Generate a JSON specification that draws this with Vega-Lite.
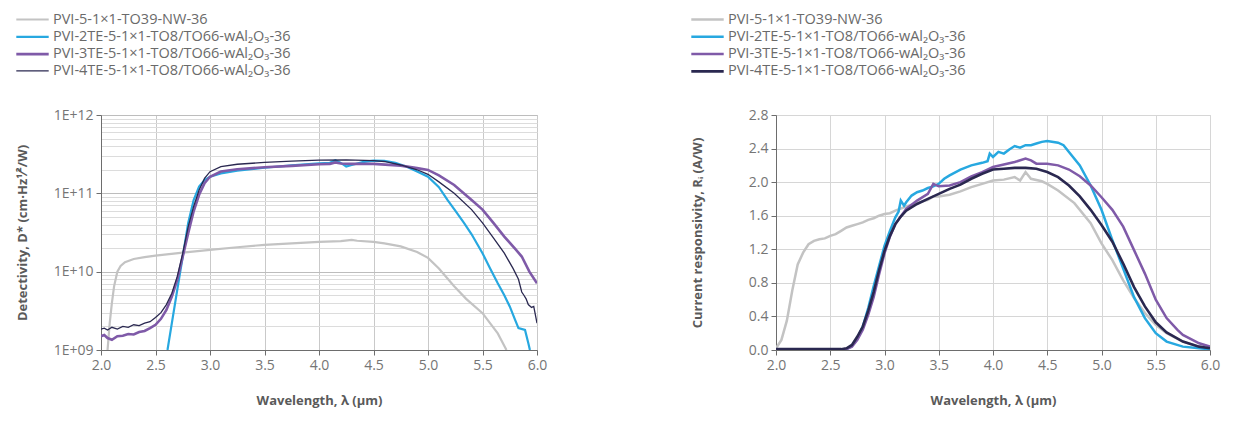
{
  "$schema": "https://vega.github.io/schema/vega-lite/v6.json",
  "background": "white",
  "padding": {"left": 15, "top": 8, "right": 20, "bottom": 5},
  "config": {
    "font": "Open Sans",
    "view": {"stroke": "#cfcfcf"},
    "concat": {"spacing": 142},
    "axis": {
      "labelFont": "Open Sans", "labelFontSize": 14, "labelColor": "#757575", "labelFlush": false,
      "titleFont": "Open Sans", "titleFontSize": 13, "titleFontWeight": "bold", "titleColor": "#5a5a5a",
      "domainColor": "#6d6d6d", "tickColor": "#6d6d6d", "tickSize": 5, "gridColor": "#d6d6d6", "labelPadding": 3
    },
    "legend": {
      "labelFont": "Open Sans", "labelFontSize": 14.5, "labelColor": "#6a6a6a", "labelLimit": 400,
      "symbolType": "M-1.8,0H1.8", "symbolStrokeWidth": 2.5, "symbolSize": 324, "rowPadding": 0.3, "labelOffset": 10
    }
  },
  "datasets": {
    "det": [
      {"series": "PVI-5-1×1-TO39-NW-36", "wavelength": 2.06, "value": 1.0e9},
      {"series": "PVI-5-1×1-TO39-NW-36", "wavelength": 2.08, "value": 2.2e9},
      {"series": "PVI-5-1×1-TO39-NW-36", "wavelength": 2.10, "value": 4.0e9},
      {"series": "PVI-5-1×1-TO39-NW-36", "wavelength": 2.12, "value": 6.5e9},
      {"series": "PVI-5-1×1-TO39-NW-36", "wavelength": 2.15, "value": 1.0e10},
      {"series": "PVI-5-1×1-TO39-NW-36", "wavelength": 2.18, "value": 1.18e10},
      {"series": "PVI-5-1×1-TO39-NW-36", "wavelength": 2.22, "value": 1.32e10},
      {"series": "PVI-5-1×1-TO39-NW-36", "wavelength": 2.3, "value": 1.45e10},
      {"series": "PVI-5-1×1-TO39-NW-36", "wavelength": 2.4, "value": 1.53e10},
      {"series": "PVI-5-1×1-TO39-NW-36", "wavelength": 2.5, "value": 1.6e10},
      {"series": "PVI-5-1×1-TO39-NW-36", "wavelength": 2.75, "value": 1.75e10},
      {"series": "PVI-5-1×1-TO39-NW-36", "wavelength": 3.0, "value": 1.9e10},
      {"series": "PVI-5-1×1-TO39-NW-36", "wavelength": 3.25, "value": 2.05e10},
      {"series": "PVI-5-1×1-TO39-NW-36", "wavelength": 3.5, "value": 2.2e10},
      {"series": "PVI-5-1×1-TO39-NW-36", "wavelength": 3.75, "value": 2.3e10},
      {"series": "PVI-5-1×1-TO39-NW-36", "wavelength": 4.0, "value": 2.4e10},
      {"series": "PVI-5-1×1-TO39-NW-36", "wavelength": 4.2, "value": 2.45e10},
      {"series": "PVI-5-1×1-TO39-NW-36", "wavelength": 4.3, "value": 2.55e10},
      {"series": "PVI-5-1×1-TO39-NW-36", "wavelength": 4.35, "value": 2.48e10},
      {"series": "PVI-5-1×1-TO39-NW-36", "wavelength": 4.5, "value": 2.4e10},
      {"series": "PVI-5-1×1-TO39-NW-36", "wavelength": 4.6, "value": 2.3e10},
      {"series": "PVI-5-1×1-TO39-NW-36", "wavelength": 4.75, "value": 2.1e10},
      {"series": "PVI-5-1×1-TO39-NW-36", "wavelength": 4.9, "value": 1.78e10},
      {"series": "PVI-5-1×1-TO39-NW-36", "wavelength": 5.0, "value": 1.5e10},
      {"series": "PVI-5-1×1-TO39-NW-36", "wavelength": 5.1, "value": 1.1e10},
      {"series": "PVI-5-1×1-TO39-NW-36", "wavelength": 5.24, "value": 6.5e9},
      {"series": "PVI-5-1×1-TO39-NW-36", "wavelength": 5.35, "value": 4.5e9},
      {"series": "PVI-5-1×1-TO39-NW-36", "wavelength": 5.5, "value": 2.95e9},
      {"series": "PVI-5-1×1-TO39-NW-36", "wavelength": 5.64, "value": 1.63e9},
      {"series": "PVI-5-1×1-TO39-NW-36", "wavelength": 5.72, "value": 1.0e9},

      {"series": "PVI-2TE-5-1×1-TO8/TO66-wAl₂O₃-36", "wavelength": 2.61, "value": 1.0e9},
      {"series": "PVI-2TE-5-1×1-TO8/TO66-wAl₂O₃-36", "wavelength": 2.65, "value": 2.2e9},
      {"series": "PVI-2TE-5-1×1-TO8/TO66-wAl₂O₃-36", "wavelength": 2.7, "value": 5.9e9},
      {"series": "PVI-2TE-5-1×1-TO8/TO66-wAl₂O₃-36", "wavelength": 2.75, "value": 1.56e10},
      {"series": "PVI-2TE-5-1×1-TO8/TO66-wAl₂O₃-36", "wavelength": 2.8, "value": 4.2e10},
      {"series": "PVI-2TE-5-1×1-TO8/TO66-wAl₂O₃-36", "wavelength": 2.85, "value": 8.2e10},
      {"series": "PVI-2TE-5-1×1-TO8/TO66-wAl₂O₃-36", "wavelength": 2.9, "value": 1.22e11},
      {"series": "PVI-2TE-5-1×1-TO8/TO66-wAl₂O₃-36", "wavelength": 2.95, "value": 1.48e11},
      {"series": "PVI-2TE-5-1×1-TO8/TO66-wAl₂O₃-36", "wavelength": 3.0, "value": 1.63e11},
      {"series": "PVI-2TE-5-1×1-TO8/TO66-wAl₂O₃-36", "wavelength": 3.1, "value": 1.8e11},
      {"series": "PVI-2TE-5-1×1-TO8/TO66-wAl₂O₃-36", "wavelength": 3.25, "value": 1.95e11},
      {"series": "PVI-2TE-5-1×1-TO8/TO66-wAl₂O₃-36", "wavelength": 3.5, "value": 2.12e11},
      {"series": "PVI-2TE-5-1×1-TO8/TO66-wAl₂O₃-36", "wavelength": 3.75, "value": 2.28e11},
      {"series": "PVI-2TE-5-1×1-TO8/TO66-wAl₂O₃-36", "wavelength": 4.0, "value": 2.42e11},
      {"series": "PVI-2TE-5-1×1-TO8/TO66-wAl₂O₃-36", "wavelength": 4.1, "value": 2.45e11},
      {"series": "PVI-2TE-5-1×1-TO8/TO66-wAl₂O₃-36", "wavelength": 4.15, "value": 2.65e11},
      {"series": "PVI-2TE-5-1×1-TO8/TO66-wAl₂O₃-36", "wavelength": 4.2, "value": 2.45e11},
      {"series": "PVI-2TE-5-1×1-TO8/TO66-wAl₂O₃-36", "wavelength": 4.25, "value": 2.2e11},
      {"series": "PVI-2TE-5-1×1-TO8/TO66-wAl₂O₃-36", "wavelength": 4.3, "value": 2.3e11},
      {"series": "PVI-2TE-5-1×1-TO8/TO66-wAl₂O₃-36", "wavelength": 4.4, "value": 2.5e11},
      {"series": "PVI-2TE-5-1×1-TO8/TO66-wAl₂O₃-36", "wavelength": 4.5, "value": 2.62e11},
      {"series": "PVI-2TE-5-1×1-TO8/TO66-wAl₂O₃-36", "wavelength": 4.6, "value": 2.6e11},
      {"series": "PVI-2TE-5-1×1-TO8/TO66-wAl₂O₃-36", "wavelength": 4.7, "value": 2.45e11},
      {"series": "PVI-2TE-5-1×1-TO8/TO66-wAl₂O₃-36", "wavelength": 4.8, "value": 2.2e11},
      {"series": "PVI-2TE-5-1×1-TO8/TO66-wAl₂O₃-36", "wavelength": 4.9, "value": 1.9e11},
      {"series": "PVI-2TE-5-1×1-TO8/TO66-wAl₂O₃-36", "wavelength": 5.0, "value": 1.63e11},
      {"series": "PVI-2TE-5-1×1-TO8/TO66-wAl₂O₃-36", "wavelength": 5.1, "value": 1.2e11},
      {"series": "PVI-2TE-5-1×1-TO8/TO66-wAl₂O₃-36", "wavelength": 5.18, "value": 8.2e10},
      {"series": "PVI-2TE-5-1×1-TO8/TO66-wAl₂O₃-36", "wavelength": 5.25, "value": 6.0e10},
      {"series": "PVI-2TE-5-1×1-TO8/TO66-wAl₂O₃-36", "wavelength": 5.33, "value": 4.2e10},
      {"series": "PVI-2TE-5-1×1-TO8/TO66-wAl₂O₃-36", "wavelength": 5.4, "value": 3.0e10},
      {"series": "PVI-2TE-5-1×1-TO8/TO66-wAl₂O₃-36", "wavelength": 5.5, "value": 1.72e10},
      {"series": "PVI-2TE-5-1×1-TO8/TO66-wAl₂O₃-36", "wavelength": 5.57, "value": 1.1e10},
      {"series": "PVI-2TE-5-1×1-TO8/TO66-wAl₂O₃-36", "wavelength": 5.64, "value": 7.1e9},
      {"series": "PVI-2TE-5-1×1-TO8/TO66-wAl₂O₃-36", "wavelength": 5.7, "value": 5.0e9},
      {"series": "PVI-2TE-5-1×1-TO8/TO66-wAl₂O₃-36", "wavelength": 5.75, "value": 3.6e9},
      {"series": "PVI-2TE-5-1×1-TO8/TO66-wAl₂O₃-36", "wavelength": 5.8, "value": 2.4e9},
      {"series": "PVI-2TE-5-1×1-TO8/TO66-wAl₂O₃-36", "wavelength": 5.83, "value": 1.9e9},
      {"series": "PVI-2TE-5-1×1-TO8/TO66-wAl₂O₃-36", "wavelength": 5.89, "value": 1.8e9},
      {"series": "PVI-2TE-5-1×1-TO8/TO66-wAl₂O₃-36", "wavelength": 5.92, "value": 1.23e9},
      {"series": "PVI-2TE-5-1×1-TO8/TO66-wAl₂O₃-36", "wavelength": 5.935, "value": 1.0e9},

      {"series": "PVI-3TE-5-1×1-TO8/TO66-wAl₂O₃-36", "wavelength": 2.0, "value": 1.5e9},
      {"series": "PVI-3TE-5-1×1-TO8/TO66-wAl₂O₃-36", "wavelength": 2.03, "value": 1.55e9},
      {"series": "PVI-3TE-5-1×1-TO8/TO66-wAl₂O₃-36", "wavelength": 2.06, "value": 1.42e9},
      {"series": "PVI-3TE-5-1×1-TO8/TO66-wAl₂O₃-36", "wavelength": 2.1, "value": 1.35e9},
      {"series": "PVI-3TE-5-1×1-TO8/TO66-wAl₂O₃-36", "wavelength": 2.15, "value": 1.5e9},
      {"series": "PVI-3TE-5-1×1-TO8/TO66-wAl₂O₃-36", "wavelength": 2.2, "value": 1.52e9},
      {"series": "PVI-3TE-5-1×1-TO8/TO66-wAl₂O₃-36", "wavelength": 2.25, "value": 1.6e9},
      {"series": "PVI-3TE-5-1×1-TO8/TO66-wAl₂O₃-36", "wavelength": 2.3, "value": 1.58e9},
      {"series": "PVI-3TE-5-1×1-TO8/TO66-wAl₂O₃-36", "wavelength": 2.35, "value": 1.7e9},
      {"series": "PVI-3TE-5-1×1-TO8/TO66-wAl₂O₃-36", "wavelength": 2.4, "value": 1.75e9},
      {"series": "PVI-3TE-5-1×1-TO8/TO66-wAl₂O₃-36", "wavelength": 2.45, "value": 1.9e9},
      {"series": "PVI-3TE-5-1×1-TO8/TO66-wAl₂O₃-36", "wavelength": 2.5, "value": 2.1e9},
      {"series": "PVI-3TE-5-1×1-TO8/TO66-wAl₂O₃-36", "wavelength": 2.55, "value": 2.5e9},
      {"series": "PVI-3TE-5-1×1-TO8/TO66-wAl₂O₃-36", "wavelength": 2.6, "value": 3.25e9},
      {"series": "PVI-3TE-5-1×1-TO8/TO66-wAl₂O₃-36", "wavelength": 2.65, "value": 4.8e9},
      {"series": "PVI-3TE-5-1×1-TO8/TO66-wAl₂O₃-36", "wavelength": 2.7, "value": 7.9e9},
      {"series": "PVI-3TE-5-1×1-TO8/TO66-wAl₂O₃-36", "wavelength": 2.75, "value": 1.56e10},
      {"series": "PVI-3TE-5-1×1-TO8/TO66-wAl₂O₃-36", "wavelength": 2.8, "value": 3.1e10},
      {"series": "PVI-3TE-5-1×1-TO8/TO66-wAl₂O₃-36", "wavelength": 2.85, "value": 5.9e10},
      {"series": "PVI-3TE-5-1×1-TO8/TO66-wAl₂O₃-36", "wavelength": 2.9, "value": 9.6e10},
      {"series": "PVI-3TE-5-1×1-TO8/TO66-wAl₂O₃-36", "wavelength": 2.95, "value": 1.35e11},
      {"series": "PVI-3TE-5-1×1-TO8/TO66-wAl₂O₃-36", "wavelength": 3.0, "value": 1.63e11},
      {"series": "PVI-3TE-5-1×1-TO8/TO66-wAl₂O₃-36", "wavelength": 3.1, "value": 1.9e11},
      {"series": "PVI-3TE-5-1×1-TO8/TO66-wAl₂O₃-36", "wavelength": 3.25, "value": 2.03e11},
      {"series": "PVI-3TE-5-1×1-TO8/TO66-wAl₂O₃-36", "wavelength": 3.5, "value": 2.15e11},
      {"series": "PVI-3TE-5-1×1-TO8/TO66-wAl₂O₃-36", "wavelength": 3.75, "value": 2.24e11},
      {"series": "PVI-3TE-5-1×1-TO8/TO66-wAl₂O₃-36", "wavelength": 4.0, "value": 2.35e11},
      {"series": "PVI-3TE-5-1×1-TO8/TO66-wAl₂O₃-36", "wavelength": 4.1, "value": 2.38e11},
      {"series": "PVI-3TE-5-1×1-TO8/TO66-wAl₂O₃-36", "wavelength": 4.15, "value": 2.48e11},
      {"series": "PVI-3TE-5-1×1-TO8/TO66-wAl₂O₃-36", "wavelength": 4.2, "value": 2.4e11},
      {"series": "PVI-3TE-5-1×1-TO8/TO66-wAl₂O₃-36", "wavelength": 4.3, "value": 2.38e11},
      {"series": "PVI-3TE-5-1×1-TO8/TO66-wAl₂O₃-36", "wavelength": 4.5, "value": 2.38e11},
      {"series": "PVI-3TE-5-1×1-TO8/TO66-wAl₂O₃-36", "wavelength": 4.75, "value": 2.26e11},
      {"series": "PVI-3TE-5-1×1-TO8/TO66-wAl₂O₃-36", "wavelength": 4.9, "value": 2.1e11},
      {"series": "PVI-3TE-5-1×1-TO8/TO66-wAl₂O₃-36", "wavelength": 5.0, "value": 1.99e11},
      {"series": "PVI-3TE-5-1×1-TO8/TO66-wAl₂O₃-36", "wavelength": 5.1, "value": 1.7e11},
      {"series": "PVI-3TE-5-1×1-TO8/TO66-wAl₂O₃-36", "wavelength": 5.24, "value": 1.28e11},
      {"series": "PVI-3TE-5-1×1-TO8/TO66-wAl₂O₃-36", "wavelength": 5.4, "value": 8.2e10},
      {"series": "PVI-3TE-5-1×1-TO8/TO66-wAl₂O₃-36", "wavelength": 5.5, "value": 6.2e10},
      {"series": "PVI-3TE-5-1×1-TO8/TO66-wAl₂O₃-36", "wavelength": 5.6, "value": 4.2e10},
      {"series": "PVI-3TE-5-1×1-TO8/TO66-wAl₂O₃-36", "wavelength": 5.7, "value": 2.8e10},
      {"series": "PVI-3TE-5-1×1-TO8/TO66-wAl₂O₃-36", "wavelength": 5.8, "value": 1.95e10},
      {"series": "PVI-3TE-5-1×1-TO8/TO66-wAl₂O₃-36", "wavelength": 5.86, "value": 1.56e10},
      {"series": "PVI-3TE-5-1×1-TO8/TO66-wAl₂O₃-36", "wavelength": 5.93, "value": 1.0e10},
      {"series": "PVI-3TE-5-1×1-TO8/TO66-wAl₂O₃-36", "wavelength": 6.0, "value": 7.1e9},

      {"series": "PVI-4TE-5-1×1-TO8/TO66-wAl₂O₃-36", "wavelength": 2.0, "value": 1.85e9},
      {"series": "PVI-4TE-5-1×1-TO8/TO66-wAl₂O₃-36", "wavelength": 2.03, "value": 1.9e9},
      {"series": "PVI-4TE-5-1×1-TO8/TO66-wAl₂O₃-36", "wavelength": 2.06, "value": 1.8e9},
      {"series": "PVI-4TE-5-1×1-TO8/TO66-wAl₂O₃-36", "wavelength": 2.1, "value": 1.95e9},
      {"series": "PVI-4TE-5-1×1-TO8/TO66-wAl₂O₃-36", "wavelength": 2.15, "value": 1.85e9},
      {"series": "PVI-4TE-5-1×1-TO8/TO66-wAl₂O₃-36", "wavelength": 2.2, "value": 2.0e9},
      {"series": "PVI-4TE-5-1×1-TO8/TO66-wAl₂O₃-36", "wavelength": 2.25, "value": 1.95e9},
      {"series": "PVI-4TE-5-1×1-TO8/TO66-wAl₂O₃-36", "wavelength": 2.3, "value": 2.1e9},
      {"series": "PVI-4TE-5-1×1-TO8/TO66-wAl₂O₃-36", "wavelength": 2.35, "value": 2.05e9},
      {"series": "PVI-4TE-5-1×1-TO8/TO66-wAl₂O₃-36", "wavelength": 2.4, "value": 2.2e9},
      {"series": "PVI-4TE-5-1×1-TO8/TO66-wAl₂O₃-36", "wavelength": 2.45, "value": 2.3e9},
      {"series": "PVI-4TE-5-1×1-TO8/TO66-wAl₂O₃-36", "wavelength": 2.5, "value": 2.6e9},
      {"series": "PVI-4TE-5-1×1-TO8/TO66-wAl₂O₃-36", "wavelength": 2.55, "value": 3.0e9},
      {"series": "PVI-4TE-5-1×1-TO8/TO66-wAl₂O₃-36", "wavelength": 2.6, "value": 3.8e9},
      {"series": "PVI-4TE-5-1×1-TO8/TO66-wAl₂O₃-36", "wavelength": 2.65, "value": 5.3e9},
      {"series": "PVI-4TE-5-1×1-TO8/TO66-wAl₂O₃-36", "wavelength": 2.7, "value": 8.7e9},
      {"series": "PVI-4TE-5-1×1-TO8/TO66-wAl₂O₃-36", "wavelength": 2.75, "value": 1.72e10},
      {"series": "PVI-4TE-5-1×1-TO8/TO66-wAl₂O₃-36", "wavelength": 2.8, "value": 3.76e10},
      {"series": "PVI-4TE-5-1×1-TO8/TO66-wAl₂O₃-36", "wavelength": 2.85, "value": 6.8e10},
      {"series": "PVI-4TE-5-1×1-TO8/TO66-wAl₂O₃-36", "wavelength": 2.9, "value": 1.1e11},
      {"series": "PVI-4TE-5-1×1-TO8/TO66-wAl₂O₃-36", "wavelength": 2.95, "value": 1.55e11},
      {"series": "PVI-4TE-5-1×1-TO8/TO66-wAl₂O₃-36", "wavelength": 3.0, "value": 1.89e11},
      {"series": "PVI-4TE-5-1×1-TO8/TO66-wAl₂O₃-36", "wavelength": 3.1, "value": 2.19e11},
      {"series": "PVI-4TE-5-1×1-TO8/TO66-wAl₂O₃-36", "wavelength": 3.25, "value": 2.35e11},
      {"series": "PVI-4TE-5-1×1-TO8/TO66-wAl₂O₃-36", "wavelength": 3.5, "value": 2.48e11},
      {"series": "PVI-4TE-5-1×1-TO8/TO66-wAl₂O₃-36", "wavelength": 3.75, "value": 2.58e11},
      {"series": "PVI-4TE-5-1×1-TO8/TO66-wAl₂O₃-36", "wavelength": 4.0, "value": 2.65e11},
      {"series": "PVI-4TE-5-1×1-TO8/TO66-wAl₂O₃-36", "wavelength": 4.25, "value": 2.68e11},
      {"series": "PVI-4TE-5-1×1-TO8/TO66-wAl₂O₃-36", "wavelength": 4.5, "value": 2.62e11},
      {"series": "PVI-4TE-5-1×1-TO8/TO66-wAl₂O₃-36", "wavelength": 4.6, "value": 2.55e11},
      {"series": "PVI-4TE-5-1×1-TO8/TO66-wAl₂O₃-36", "wavelength": 4.75, "value": 2.3e11},
      {"series": "PVI-4TE-5-1×1-TO8/TO66-wAl₂O₃-36", "wavelength": 4.9, "value": 2.0e11},
      {"series": "PVI-4TE-5-1×1-TO8/TO66-wAl₂O₃-36", "wavelength": 5.0, "value": 1.75e11},
      {"series": "PVI-4TE-5-1×1-TO8/TO66-wAl₂O₃-36", "wavelength": 5.1, "value": 1.4e11},
      {"series": "PVI-4TE-5-1×1-TO8/TO66-wAl₂O₃-36", "wavelength": 5.24, "value": 1.0e11},
      {"series": "PVI-4TE-5-1×1-TO8/TO66-wAl₂O₃-36", "wavelength": 5.4, "value": 6.2e10},
      {"series": "PVI-4TE-5-1×1-TO8/TO66-wAl₂O₃-36", "wavelength": 5.5, "value": 4.2e10},
      {"series": "PVI-4TE-5-1×1-TO8/TO66-wAl₂O₃-36", "wavelength": 5.6, "value": 2.7e10},
      {"series": "PVI-4TE-5-1×1-TO8/TO66-wAl₂O₃-36", "wavelength": 5.7, "value": 1.72e10},
      {"series": "PVI-4TE-5-1×1-TO8/TO66-wAl₂O₃-36", "wavelength": 5.78, "value": 1.1e10},
      {"series": "PVI-4TE-5-1×1-TO8/TO66-wAl₂O₃-36", "wavelength": 5.83, "value": 8.0e9},
      {"series": "PVI-4TE-5-1×1-TO8/TO66-wAl₂O₃-36", "wavelength": 5.86, "value": 5.5e9},
      {"series": "PVI-4TE-5-1×1-TO8/TO66-wAl₂O₃-36", "wavelength": 5.88, "value": 5.0e9},
      {"series": "PVI-4TE-5-1×1-TO8/TO66-wAl₂O₃-36", "wavelength": 5.9, "value": 4.5e9},
      {"series": "PVI-4TE-5-1×1-TO8/TO66-wAl₂O₃-36", "wavelength": 5.92, "value": 3.8e9},
      {"series": "PVI-4TE-5-1×1-TO8/TO66-wAl₂O₃-36", "wavelength": 5.95, "value": 3.5e9},
      {"series": "PVI-4TE-5-1×1-TO8/TO66-wAl₂O₃-36", "wavelength": 5.97, "value": 3.6e9},
      {"series": "PVI-4TE-5-1×1-TO8/TO66-wAl₂O₃-36", "wavelength": 6.0, "value": 2.2e9}
    ],
    "resp": [
      {"series": "PVI-5-1×1-TO39-NW-36", "wavelength": 2.0, "value": 0.02},
      {"series": "PVI-5-1×1-TO39-NW-36", "wavelength": 2.05, "value": 0.12},
      {"series": "PVI-5-1×1-TO39-NW-36", "wavelength": 2.1, "value": 0.35},
      {"series": "PVI-5-1×1-TO39-NW-36", "wavelength": 2.15, "value": 0.71},
      {"series": "PVI-5-1×1-TO39-NW-36", "wavelength": 2.2, "value": 1.02},
      {"series": "PVI-5-1×1-TO39-NW-36", "wavelength": 2.25, "value": 1.16},
      {"series": "PVI-5-1×1-TO39-NW-36", "wavelength": 2.3, "value": 1.26},
      {"series": "PVI-5-1×1-TO39-NW-36", "wavelength": 2.35, "value": 1.3},
      {"series": "PVI-5-1×1-TO39-NW-36", "wavelength": 2.4, "value": 1.32},
      {"series": "PVI-5-1×1-TO39-NW-36", "wavelength": 2.45, "value": 1.33},
      {"series": "PVI-5-1×1-TO39-NW-36", "wavelength": 2.5, "value": 1.36},
      {"series": "PVI-5-1×1-TO39-NW-36", "wavelength": 2.55, "value": 1.38},
      {"series": "PVI-5-1×1-TO39-NW-36", "wavelength": 2.6, "value": 1.42},
      {"series": "PVI-5-1×1-TO39-NW-36", "wavelength": 2.65, "value": 1.46},
      {"series": "PVI-5-1×1-TO39-NW-36", "wavelength": 2.7, "value": 1.48},
      {"series": "PVI-5-1×1-TO39-NW-36", "wavelength": 2.75, "value": 1.5},
      {"series": "PVI-5-1×1-TO39-NW-36", "wavelength": 2.8, "value": 1.52},
      {"series": "PVI-5-1×1-TO39-NW-36", "wavelength": 2.85, "value": 1.55},
      {"series": "PVI-5-1×1-TO39-NW-36", "wavelength": 2.9, "value": 1.57},
      {"series": "PVI-5-1×1-TO39-NW-36", "wavelength": 2.95, "value": 1.6},
      {"series": "PVI-5-1×1-TO39-NW-36", "wavelength": 3.0, "value": 1.62},
      {"series": "PVI-5-1×1-TO39-NW-36", "wavelength": 3.05, "value": 1.63},
      {"series": "PVI-5-1×1-TO39-NW-36", "wavelength": 3.1, "value": 1.66},
      {"series": "PVI-5-1×1-TO39-NW-36", "wavelength": 3.2, "value": 1.71},
      {"series": "PVI-5-1×1-TO39-NW-36", "wavelength": 3.3, "value": 1.75},
      {"series": "PVI-5-1×1-TO39-NW-36", "wavelength": 3.4, "value": 1.79},
      {"series": "PVI-5-1×1-TO39-NW-36", "wavelength": 3.45, "value": 1.83},
      {"series": "PVI-5-1×1-TO39-NW-36", "wavelength": 3.5, "value": 1.83},
      {"series": "PVI-5-1×1-TO39-NW-36", "wavelength": 3.6, "value": 1.85},
      {"series": "PVI-5-1×1-TO39-NW-36", "wavelength": 3.7, "value": 1.89},
      {"series": "PVI-5-1×1-TO39-NW-36", "wavelength": 3.8, "value": 1.94},
      {"series": "PVI-5-1×1-TO39-NW-36", "wavelength": 3.9, "value": 1.98},
      {"series": "PVI-5-1×1-TO39-NW-36", "wavelength": 4.0, "value": 2.02},
      {"series": "PVI-5-1×1-TO39-NW-36", "wavelength": 4.1, "value": 2.03},
      {"series": "PVI-5-1×1-TO39-NW-36", "wavelength": 4.2, "value": 2.06},
      {"series": "PVI-5-1×1-TO39-NW-36", "wavelength": 4.25, "value": 2.02},
      {"series": "PVI-5-1×1-TO39-NW-36", "wavelength": 4.3, "value": 2.12},
      {"series": "PVI-5-1×1-TO39-NW-36", "wavelength": 4.35, "value": 2.04},
      {"series": "PVI-5-1×1-TO39-NW-36", "wavelength": 4.45, "value": 2.01},
      {"series": "PVI-5-1×1-TO39-NW-36", "wavelength": 4.5, "value": 1.98},
      {"series": "PVI-5-1×1-TO39-NW-36", "wavelength": 4.6, "value": 1.9},
      {"series": "PVI-5-1×1-TO39-NW-36", "wavelength": 4.75, "value": 1.75},
      {"series": "PVI-5-1×1-TO39-NW-36", "wavelength": 4.9, "value": 1.51},
      {"series": "PVI-5-1×1-TO39-NW-36", "wavelength": 5.0, "value": 1.27},
      {"series": "PVI-5-1×1-TO39-NW-36", "wavelength": 5.1, "value": 1.07},
      {"series": "PVI-5-1×1-TO39-NW-36", "wavelength": 5.2, "value": 0.83},
      {"series": "PVI-5-1×1-TO39-NW-36", "wavelength": 5.3, "value": 0.62},
      {"series": "PVI-5-1×1-TO39-NW-36", "wavelength": 5.4, "value": 0.44},
      {"series": "PVI-5-1×1-TO39-NW-36", "wavelength": 5.5, "value": 0.3},
      {"series": "PVI-5-1×1-TO39-NW-36", "wavelength": 5.6, "value": 0.2},
      {"series": "PVI-5-1×1-TO39-NW-36", "wavelength": 5.75, "value": 0.1},
      {"series": "PVI-5-1×1-TO39-NW-36", "wavelength": 5.9, "value": 0.04},
      {"series": "PVI-5-1×1-TO39-NW-36", "wavelength": 6.0, "value": 0.02},

      {"series": "PVI-2TE-5-1×1-TO8/TO66-wAl₂O₃-36", "wavelength": 2.0, "value": 0.005},
      {"series": "PVI-2TE-5-1×1-TO8/TO66-wAl₂O₃-36", "wavelength": 2.6, "value": 0.005},
      {"series": "PVI-2TE-5-1×1-TO8/TO66-wAl₂O₃-36", "wavelength": 2.65, "value": 0.01},
      {"series": "PVI-2TE-5-1×1-TO8/TO66-wAl₂O₃-36", "wavelength": 2.7, "value": 0.05},
      {"series": "PVI-2TE-5-1×1-TO8/TO66-wAl₂O₃-36", "wavelength": 2.75, "value": 0.14},
      {"series": "PVI-2TE-5-1×1-TO8/TO66-wAl₂O₃-36", "wavelength": 2.8, "value": 0.28},
      {"series": "PVI-2TE-5-1×1-TO8/TO66-wAl₂O₃-36", "wavelength": 2.85, "value": 0.5},
      {"series": "PVI-2TE-5-1×1-TO8/TO66-wAl₂O₃-36", "wavelength": 2.9, "value": 0.76},
      {"series": "PVI-2TE-5-1×1-TO8/TO66-wAl₂O₃-36", "wavelength": 2.95, "value": 1.0},
      {"series": "PVI-2TE-5-1×1-TO8/TO66-wAl₂O₃-36", "wavelength": 3.0, "value": 1.24},
      {"series": "PVI-2TE-5-1×1-TO8/TO66-wAl₂O₃-36", "wavelength": 3.05, "value": 1.42},
      {"series": "PVI-2TE-5-1×1-TO8/TO66-wAl₂O₃-36", "wavelength": 3.1, "value": 1.58},
      {"series": "PVI-2TE-5-1×1-TO8/TO66-wAl₂O₃-36", "wavelength": 3.13, "value": 1.65},
      {"series": "PVI-2TE-5-1×1-TO8/TO66-wAl₂O₃-36", "wavelength": 3.15, "value": 1.78},
      {"series": "PVI-2TE-5-1×1-TO8/TO66-wAl₂O₃-36", "wavelength": 3.18, "value": 1.72},
      {"series": "PVI-2TE-5-1×1-TO8/TO66-wAl₂O₃-36", "wavelength": 3.2, "value": 1.76},
      {"series": "PVI-2TE-5-1×1-TO8/TO66-wAl₂O₃-36", "wavelength": 3.25, "value": 1.84},
      {"series": "PVI-2TE-5-1×1-TO8/TO66-wAl₂O₃-36", "wavelength": 3.3, "value": 1.88},
      {"series": "PVI-2TE-5-1×1-TO8/TO66-wAl₂O₃-36", "wavelength": 3.35, "value": 1.9},
      {"series": "PVI-2TE-5-1×1-TO8/TO66-wAl₂O₃-36", "wavelength": 3.4, "value": 1.93},
      {"series": "PVI-2TE-5-1×1-TO8/TO66-wAl₂O₃-36", "wavelength": 3.45, "value": 1.95},
      {"series": "PVI-2TE-5-1×1-TO8/TO66-wAl₂O₃-36", "wavelength": 3.5, "value": 1.98},
      {"series": "PVI-2TE-5-1×1-TO8/TO66-wAl₂O₃-36", "wavelength": 3.55, "value": 2.04},
      {"series": "PVI-2TE-5-1×1-TO8/TO66-wAl₂O₃-36", "wavelength": 3.6, "value": 2.08},
      {"series": "PVI-2TE-5-1×1-TO8/TO66-wAl₂O₃-36", "wavelength": 3.7, "value": 2.15},
      {"series": "PVI-2TE-5-1×1-TO8/TO66-wAl₂O₃-36", "wavelength": 3.8, "value": 2.2},
      {"series": "PVI-2TE-5-1×1-TO8/TO66-wAl₂O₃-36", "wavelength": 3.9, "value": 2.23},
      {"series": "PVI-2TE-5-1×1-TO8/TO66-wAl₂O₃-36", "wavelength": 3.95, "value": 2.25},
      {"series": "PVI-2TE-5-1×1-TO8/TO66-wAl₂O₃-36", "wavelength": 3.97, "value": 2.34},
      {"series": "PVI-2TE-5-1×1-TO8/TO66-wAl₂O₃-36", "wavelength": 4.0, "value": 2.3},
      {"series": "PVI-2TE-5-1×1-TO8/TO66-wAl₂O₃-36", "wavelength": 4.05, "value": 2.36},
      {"series": "PVI-2TE-5-1×1-TO8/TO66-wAl₂O₃-36", "wavelength": 4.1, "value": 2.34},
      {"series": "PVI-2TE-5-1×1-TO8/TO66-wAl₂O₃-36", "wavelength": 4.15, "value": 2.39},
      {"series": "PVI-2TE-5-1×1-TO8/TO66-wAl₂O₃-36", "wavelength": 4.2, "value": 2.43},
      {"series": "PVI-2TE-5-1×1-TO8/TO66-wAl₂O₃-36", "wavelength": 4.25, "value": 2.41},
      {"series": "PVI-2TE-5-1×1-TO8/TO66-wAl₂O₃-36", "wavelength": 4.3, "value": 2.44},
      {"series": "PVI-2TE-5-1×1-TO8/TO66-wAl₂O₃-36", "wavelength": 4.35, "value": 2.44},
      {"series": "PVI-2TE-5-1×1-TO8/TO66-wAl₂O₃-36", "wavelength": 4.4, "value": 2.46},
      {"series": "PVI-2TE-5-1×1-TO8/TO66-wAl₂O₃-36", "wavelength": 4.45, "value": 2.48},
      {"series": "PVI-2TE-5-1×1-TO8/TO66-wAl₂O₃-36", "wavelength": 4.5, "value": 2.49},
      {"series": "PVI-2TE-5-1×1-TO8/TO66-wAl₂O₃-36", "wavelength": 4.6, "value": 2.47},
      {"series": "PVI-2TE-5-1×1-TO8/TO66-wAl₂O₃-36", "wavelength": 4.65, "value": 2.44},
      {"series": "PVI-2TE-5-1×1-TO8/TO66-wAl₂O₃-36", "wavelength": 4.7, "value": 2.36},
      {"series": "PVI-2TE-5-1×1-TO8/TO66-wAl₂O₃-36", "wavelength": 4.8, "value": 2.2},
      {"series": "PVI-2TE-5-1×1-TO8/TO66-wAl₂O₃-36", "wavelength": 4.9, "value": 1.96},
      {"series": "PVI-2TE-5-1×1-TO8/TO66-wAl₂O₃-36", "wavelength": 5.0, "value": 1.67},
      {"series": "PVI-2TE-5-1×1-TO8/TO66-wAl₂O₃-36", "wavelength": 5.1, "value": 1.31},
      {"series": "PVI-2TE-5-1×1-TO8/TO66-wAl₂O₃-36", "wavelength": 5.2, "value": 0.97},
      {"series": "PVI-2TE-5-1×1-TO8/TO66-wAl₂O₃-36", "wavelength": 5.3, "value": 0.63},
      {"series": "PVI-2TE-5-1×1-TO8/TO66-wAl₂O₃-36", "wavelength": 5.4, "value": 0.38},
      {"series": "PVI-2TE-5-1×1-TO8/TO66-wAl₂O₃-36", "wavelength": 5.5, "value": 0.2},
      {"series": "PVI-2TE-5-1×1-TO8/TO66-wAl₂O₃-36", "wavelength": 5.6, "value": 0.1},
      {"series": "PVI-2TE-5-1×1-TO8/TO66-wAl₂O₃-36", "wavelength": 5.75, "value": 0.04},
      {"series": "PVI-2TE-5-1×1-TO8/TO66-wAl₂O₃-36", "wavelength": 5.9, "value": 0.02},
      {"series": "PVI-2TE-5-1×1-TO8/TO66-wAl₂O₃-36", "wavelength": 6.0, "value": 0.01},

      {"series": "PVI-3TE-5-1×1-TO8/TO66-wAl₂O₃-36", "wavelength": 2.0, "value": 0.01},
      {"series": "PVI-3TE-5-1×1-TO8/TO66-wAl₂O₃-36", "wavelength": 2.65, "value": 0.01},
      {"series": "PVI-3TE-5-1×1-TO8/TO66-wAl₂O₃-36", "wavelength": 2.7, "value": 0.04},
      {"series": "PVI-3TE-5-1×1-TO8/TO66-wAl₂O₃-36", "wavelength": 2.75, "value": 0.12},
      {"series": "PVI-3TE-5-1×1-TO8/TO66-wAl₂O₃-36", "wavelength": 2.8, "value": 0.24},
      {"series": "PVI-3TE-5-1×1-TO8/TO66-wAl₂O₃-36", "wavelength": 2.85, "value": 0.42},
      {"series": "PVI-3TE-5-1×1-TO8/TO66-wAl₂O₃-36", "wavelength": 2.9, "value": 0.63},
      {"series": "PVI-3TE-5-1×1-TO8/TO66-wAl₂O₃-36", "wavelength": 2.95, "value": 0.9},
      {"series": "PVI-3TE-5-1×1-TO8/TO66-wAl₂O₃-36", "wavelength": 3.0, "value": 1.15},
      {"series": "PVI-3TE-5-1×1-TO8/TO66-wAl₂O₃-36", "wavelength": 3.05, "value": 1.35},
      {"series": "PVI-3TE-5-1×1-TO8/TO66-wAl₂O₃-36", "wavelength": 3.1, "value": 1.5},
      {"series": "PVI-3TE-5-1×1-TO8/TO66-wAl₂O₃-36", "wavelength": 3.2, "value": 1.68},
      {"series": "PVI-3TE-5-1×1-TO8/TO66-wAl₂O₃-36", "wavelength": 3.3, "value": 1.78},
      {"series": "PVI-3TE-5-1×1-TO8/TO66-wAl₂O₃-36", "wavelength": 3.4, "value": 1.86},
      {"series": "PVI-3TE-5-1×1-TO8/TO66-wAl₂O₃-36", "wavelength": 3.45, "value": 1.98},
      {"series": "PVI-3TE-5-1×1-TO8/TO66-wAl₂O₃-36", "wavelength": 3.5, "value": 1.95},
      {"series": "PVI-3TE-5-1×1-TO8/TO66-wAl₂O₃-36", "wavelength": 3.6, "value": 1.96},
      {"series": "PVI-3TE-5-1×1-TO8/TO66-wAl₂O₃-36", "wavelength": 3.7, "value": 2.0},
      {"series": "PVI-3TE-5-1×1-TO8/TO66-wAl₂O₃-36", "wavelength": 3.8, "value": 2.07},
      {"series": "PVI-3TE-5-1×1-TO8/TO66-wAl₂O₃-36", "wavelength": 3.9, "value": 2.12},
      {"series": "PVI-3TE-5-1×1-TO8/TO66-wAl₂O₃-36", "wavelength": 4.0, "value": 2.18},
      {"series": "PVI-3TE-5-1×1-TO8/TO66-wAl₂O₃-36", "wavelength": 4.1, "value": 2.21},
      {"series": "PVI-3TE-5-1×1-TO8/TO66-wAl₂O₃-36", "wavelength": 4.2, "value": 2.24},
      {"series": "PVI-3TE-5-1×1-TO8/TO66-wAl₂O₃-36", "wavelength": 4.3, "value": 2.28},
      {"series": "PVI-3TE-5-1×1-TO8/TO66-wAl₂O₃-36", "wavelength": 4.35, "value": 2.26},
      {"series": "PVI-3TE-5-1×1-TO8/TO66-wAl₂O₃-36", "wavelength": 4.4, "value": 2.22},
      {"series": "PVI-3TE-5-1×1-TO8/TO66-wAl₂O₃-36", "wavelength": 4.5, "value": 2.22},
      {"series": "PVI-3TE-5-1×1-TO8/TO66-wAl₂O₃-36", "wavelength": 4.6, "value": 2.2},
      {"series": "PVI-3TE-5-1×1-TO8/TO66-wAl₂O₃-36", "wavelength": 4.7, "value": 2.15},
      {"series": "PVI-3TE-5-1×1-TO8/TO66-wAl₂O₃-36", "wavelength": 4.8, "value": 2.07},
      {"series": "PVI-3TE-5-1×1-TO8/TO66-wAl₂O₃-36", "wavelength": 4.9, "value": 1.96},
      {"series": "PVI-3TE-5-1×1-TO8/TO66-wAl₂O₃-36", "wavelength": 5.0, "value": 1.82},
      {"series": "PVI-3TE-5-1×1-TO8/TO66-wAl₂O₃-36", "wavelength": 5.1, "value": 1.67},
      {"series": "PVI-3TE-5-1×1-TO8/TO66-wAl₂O₃-36", "wavelength": 5.2, "value": 1.47},
      {"series": "PVI-3TE-5-1×1-TO8/TO66-wAl₂O₃-36", "wavelength": 5.3, "value": 1.19},
      {"series": "PVI-3TE-5-1×1-TO8/TO66-wAl₂O₃-36", "wavelength": 5.4, "value": 0.91},
      {"series": "PVI-3TE-5-1×1-TO8/TO66-wAl₂O₃-36", "wavelength": 5.5, "value": 0.6},
      {"series": "PVI-3TE-5-1×1-TO8/TO66-wAl₂O₃-36", "wavelength": 5.6, "value": 0.38},
      {"series": "PVI-3TE-5-1×1-TO8/TO66-wAl₂O₃-36", "wavelength": 5.7, "value": 0.24},
      {"series": "PVI-3TE-5-1×1-TO8/TO66-wAl₂O₃-36", "wavelength": 5.75, "value": 0.18},
      {"series": "PVI-3TE-5-1×1-TO8/TO66-wAl₂O₃-36", "wavelength": 5.9, "value": 0.08},
      {"series": "PVI-3TE-5-1×1-TO8/TO66-wAl₂O₃-36", "wavelength": 6.0, "value": 0.04},

      {"series": "PVI-4TE-5-1×1-TO8/TO66-wAl₂O₃-36", "wavelength": 2.0, "value": 0.01},
      {"series": "PVI-4TE-5-1×1-TO8/TO66-wAl₂O₃-36", "wavelength": 2.6, "value": 0.01},
      {"series": "PVI-4TE-5-1×1-TO8/TO66-wAl₂O₃-36", "wavelength": 2.65, "value": 0.02},
      {"series": "PVI-4TE-5-1×1-TO8/TO66-wAl₂O₃-36", "wavelength": 2.7, "value": 0.06},
      {"series": "PVI-4TE-5-1×1-TO8/TO66-wAl₂O₃-36", "wavelength": 2.75, "value": 0.16},
      {"series": "PVI-4TE-5-1×1-TO8/TO66-wAl₂O₃-36", "wavelength": 2.8, "value": 0.28},
      {"series": "PVI-4TE-5-1×1-TO8/TO66-wAl₂O₃-36", "wavelength": 2.85, "value": 0.47},
      {"series": "PVI-4TE-5-1×1-TO8/TO66-wAl₂O₃-36", "wavelength": 2.9, "value": 0.69},
      {"series": "PVI-4TE-5-1×1-TO8/TO66-wAl₂O₃-36", "wavelength": 2.95, "value": 0.95},
      {"series": "PVI-4TE-5-1×1-TO8/TO66-wAl₂O₃-36", "wavelength": 3.0, "value": 1.18},
      {"series": "PVI-4TE-5-1×1-TO8/TO66-wAl₂O₃-36", "wavelength": 3.05, "value": 1.36},
      {"series": "PVI-4TE-5-1×1-TO8/TO66-wAl₂O₃-36", "wavelength": 3.1, "value": 1.5},
      {"series": "PVI-4TE-5-1×1-TO8/TO66-wAl₂O₃-36", "wavelength": 3.15, "value": 1.59},
      {"series": "PVI-4TE-5-1×1-TO8/TO66-wAl₂O₃-36", "wavelength": 3.2, "value": 1.66},
      {"series": "PVI-4TE-5-1×1-TO8/TO66-wAl₂O₃-36", "wavelength": 3.3, "value": 1.74},
      {"series": "PVI-4TE-5-1×1-TO8/TO66-wAl₂O₃-36", "wavelength": 3.4, "value": 1.8},
      {"series": "PVI-4TE-5-1×1-TO8/TO66-wAl₂O₃-36", "wavelength": 3.5, "value": 1.86},
      {"series": "PVI-4TE-5-1×1-TO8/TO66-wAl₂O₃-36", "wavelength": 3.6, "value": 1.92},
      {"series": "PVI-4TE-5-1×1-TO8/TO66-wAl₂O₃-36", "wavelength": 3.7, "value": 1.97},
      {"series": "PVI-4TE-5-1×1-TO8/TO66-wAl₂O₃-36", "wavelength": 3.8, "value": 2.04},
      {"series": "PVI-4TE-5-1×1-TO8/TO66-wAl₂O₃-36", "wavelength": 3.9, "value": 2.1},
      {"series": "PVI-4TE-5-1×1-TO8/TO66-wAl₂O₃-36", "wavelength": 4.0, "value": 2.15},
      {"series": "PVI-4TE-5-1×1-TO8/TO66-wAl₂O₃-36", "wavelength": 4.1, "value": 2.16},
      {"series": "PVI-4TE-5-1×1-TO8/TO66-wAl₂O₃-36", "wavelength": 4.2, "value": 2.17},
      {"series": "PVI-4TE-5-1×1-TO8/TO66-wAl₂O₃-36", "wavelength": 4.3, "value": 2.17},
      {"series": "PVI-4TE-5-1×1-TO8/TO66-wAl₂O₃-36", "wavelength": 4.4, "value": 2.16},
      {"series": "PVI-4TE-5-1×1-TO8/TO66-wAl₂O₃-36", "wavelength": 4.5, "value": 2.12},
      {"series": "PVI-4TE-5-1×1-TO8/TO66-wAl₂O₃-36", "wavelength": 4.6, "value": 2.06},
      {"series": "PVI-4TE-5-1×1-TO8/TO66-wAl₂O₃-36", "wavelength": 4.7, "value": 1.96},
      {"series": "PVI-4TE-5-1×1-TO8/TO66-wAl₂O₃-36", "wavelength": 4.8, "value": 1.83},
      {"series": "PVI-4TE-5-1×1-TO8/TO66-wAl₂O₃-36", "wavelength": 4.9, "value": 1.67},
      {"series": "PVI-4TE-5-1×1-TO8/TO66-wAl₂O₃-36", "wavelength": 5.0, "value": 1.49},
      {"series": "PVI-4TE-5-1×1-TO8/TO66-wAl₂O₃-36", "wavelength": 5.1, "value": 1.29},
      {"series": "PVI-4TE-5-1×1-TO8/TO66-wAl₂O₃-36", "wavelength": 5.2, "value": 1.03},
      {"series": "PVI-4TE-5-1×1-TO8/TO66-wAl₂O₃-36", "wavelength": 5.3, "value": 0.75},
      {"series": "PVI-4TE-5-1×1-TO8/TO66-wAl₂O₃-36", "wavelength": 5.4, "value": 0.52},
      {"series": "PVI-4TE-5-1×1-TO8/TO66-wAl₂O₃-36", "wavelength": 5.5, "value": 0.33},
      {"series": "PVI-4TE-5-1×1-TO8/TO66-wAl₂O₃-36", "wavelength": 5.6, "value": 0.21},
      {"series": "PVI-4TE-5-1×1-TO8/TO66-wAl₂O₃-36", "wavelength": 5.75, "value": 0.1},
      {"series": "PVI-4TE-5-1×1-TO8/TO66-wAl₂O₃-36", "wavelength": 5.9, "value": 0.04},
      {"series": "PVI-4TE-5-1×1-TO8/TO66-wAl₂O₃-36", "wavelength": 6.0, "value": 0.02}
    ]
  },
  "resolve": {"scale": {"color": "independent", "strokeWidth": "independent"}, "legend": {"color": "independent"}},
  "hconcat": [
    {
      "width": 436, "height": 235,
      "data": {"name": "det"},
      "mark": {"type": "line", "clip": true},
      "encoding": {
        "x": {"field": "wavelength", "type": "quantitative",
          "scale": {"domain": [2, 6]},
          "axis": {"values": [2, 2.5, 3, 3.5, 4, 4.5, 5, 5.5, 6], "format": ".1f", "title": "Wavelength, λ (µm)", "titlePadding": 22, "gridColor": "#c9c9c9"}},
        "y": {"field": "value", "type": "quantitative",
          "scale": {"type": "log", "domain": [1e9, 1e12]},
          "axis": {
            "values": [1e9, 2e9, 3e9, 4e9, 5e9, 6e9, 7e9, 8e9, 9e9, 1e10, 2e10, 3e10, 4e10, 5e10, 6e10, 7e10, 8e10, 9e10, 1e11, 2e11, 3e11, 4e11, 5e11, 6e11, 7e11, 8e11, 9e11, 1e12],
            "labelExpr": "abs(log(datum.value)/LN10 - round(log(datum.value)/LN10)) < 0.01 ? ('1E+' + (round(log(datum.value)/LN10) < 10 ? '0' : '') + round(log(datum.value)/LN10)) : ''",
            "labelOverlap": false,
            "title": "Detectivity, D* (cm·Hz¹⁄²/W)",
            "titlePadding": 24,
            "gridColor": {"condition": {"test": "abs(log(datum.value)/LN10 - round(log(datum.value)/LN10)) < 0.01", "value": "#bdbdbd"}, "value": "#dcdcdc"},
            "tickOpacity": {"condition": {"test": "abs(log(datum.value)/LN10 - round(log(datum.value)/LN10)) < 0.01", "value": 1}, "value": 0}
          }},
        "color": {"field": "series", "type": "nominal",
          "scale": {"domain": ["PVI-5-1×1-TO39-NW-36", "PVI-2TE-5-1×1-TO8/TO66-wAl₂O₃-36", "PVI-3TE-5-1×1-TO8/TO66-wAl₂O₃-36", "PVI-4TE-5-1×1-TO8/TO66-wAl₂O₃-36"],
                    "range": ["#c3c3c3", "#27a8e0", "#7f5aa8", "#2a2850"]},
          "legend": {"orient": "none", "legendX": -79, "legendY": -106, "title": null}},
        "strokeWidth": {"field": "series", "type": "nominal",
          "scale": {"type": "ordinal", "domain": ["PVI-5-1×1-TO39-NW-36", "PVI-2TE-5-1×1-TO8/TO66-wAl₂O₃-36", "PVI-3TE-5-1×1-TO8/TO66-wAl₂O₃-36", "PVI-4TE-5-1×1-TO8/TO66-wAl₂O₃-36"], "range": [2.2, 2.2, 2.6, 1.3]},
          "legend": null}
      }
    },
    {
      "width": 434, "height": 235,
      "data": {"name": "resp"},
      "mark": {"type": "line", "clip": true},
      "encoding": {
        "x": {"field": "wavelength", "type": "quantitative",
          "scale": {"domain": [2, 6]},
          "axis": {"values": [2, 2.5, 3, 3.5, 4, 4.5, 5, 5.5, 6], "format": ".1f", "title": "Wavelength, λ (µm)", "titlePadding": 22}},
        "y": {"field": "value", "type": "quantitative",
          "scale": {"domain": [0, 2.8]},
          "axis": {"values": [0, 0.4, 0.8, 1.2, 1.6, 2.0, 2.4, 2.8], "format": ".1f", "title": "Current responsivity, Rᵢ (A/W)", "titlePadding": 44}},
        "color": {"field": "series", "type": "nominal",
          "scale": {"domain": ["PVI-5-1×1-TO39-NW-36", "PVI-2TE-5-1×1-TO8/TO66-wAl₂O₃-36", "PVI-3TE-5-1×1-TO8/TO66-wAl₂O₃-36", "PVI-4TE-5-1×1-TO8/TO66-wAl₂O₃-36"],
                    "range": ["#c3c3c3", "#27a8e0", "#7f5aa8", "#2a2850"]},
          "legend": {"orient": "none", "legendX": -79, "legendY": -106, "title": null}},
        "strokeWidth": {"field": "series", "type": "nominal",
          "scale": {"type": "ordinal", "domain": ["PVI-5-1×1-TO39-NW-36", "PVI-2TE-5-1×1-TO8/TO66-wAl₂O₃-36", "PVI-3TE-5-1×1-TO8/TO66-wAl₂O₃-36", "PVI-4TE-5-1×1-TO8/TO66-wAl₂O₃-36"], "range": [2.5, 2.5, 2.5, 2.6]},
          "legend": null}
      }
    }
  ]
}
